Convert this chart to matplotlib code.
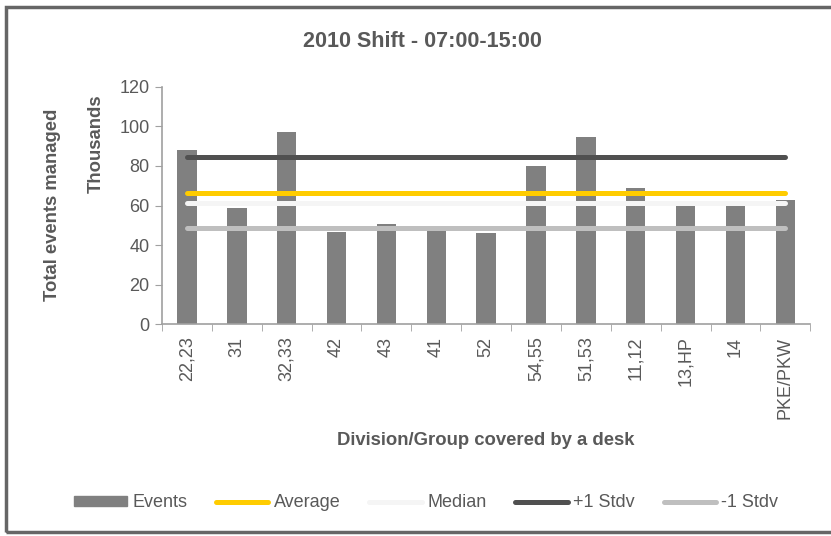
import matplotlib.pyplot as plt
from matplotlib.patches import Rectangle
from matplotlib.lines import Line2D

# data (thousands of events)
desks = ["22,23", "31", "32,33", "42", "43", "41", "52", "54,55", "51,53",
         "11,12", "13,HP", "14", "PKE/PKW"]
events = [88.0, 58.7, 97.1, 46.6, 50.6, 47.4, 46.1, 80.0, 94.5, 68.8, 60.1, 60.0, 62.6]
average = 66.3
median = 61.3
plus_stdv = 84.4
minus_stdv = 48.4

plt.rcParams['font.family'] = ['Liberation Sans', 'DejaVu Sans']
txt = '#595959'

fig = plt.figure(figsize=(8.31, 5.36), dpi=100)
ax = fig.add_axes([0.195, 0.3955, 0.78, 0.4422])

x = list(range(len(desks)))
ax.bar(x, events, width=0.39, color='#808080', zorder=2)

ax.plot([x[0], x[-1]], [plus_stdv] * 2, color='#505050', lw=3.6, solid_capstyle='round', zorder=3)
ax.plot([x[0], x[-1]], [average] * 2, color='#ffcc00', lw=3.6, solid_capstyle='round', zorder=3)
ax.plot([x[0], x[-1]], [median] * 2, color='#f5f5f5', lw=3.6, solid_capstyle='round', zorder=3)
ax.plot([x[0], x[-1]], [minus_stdv] * 2, color='#bfbfbf', lw=3.6, solid_capstyle='round', zorder=3)

ax.set_xlim(-0.5, len(desks) - 0.5)
ax.set_ylim(0, 120)
ax.set_yticks(range(0, 121, 20))
ax.set_xticks(x)
ax.set_xticklabels(desks, rotation=90, fontsize=13, color=txt)
ax.tick_params(axis='x', length=0, pad=9)
ax.set_xticks([i - 0.5 for i in range(len(desks) + 1)], minor=True)
ax.tick_params(axis='x', which='minor', length=5, color='#a0a0a0', direction='out')
ax.tick_params(axis='y', labelsize=13, labelcolor=txt, length=5, color='#a0a0a0', pad=4)

for s in ['top', 'right']:
    ax.spines[s].set_visible(False)
for s in ['left', 'bottom']:
    ax.spines[s].set_color('#a0a0a0')
    ax.spines[s].set_linewidth(1.2)

fig.text(0.508, 0.923, "2010 Shift - 07:00-15:00", ha='center', va='center',
         fontsize=15.5, fontweight='bold', color=txt)
fig.text(0.0626, 0.6185, "Total events managed", rotation=90, ha='center', va='center',
         fontsize=13.3, fontweight='bold', color=txt)
fig.text(0.116, 0.731, "Thousands", rotation=90, ha='center', va='center',
         fontsize=13.3, fontweight='bold', color=txt)
fig.text(0.585, 0.179, "Division/Group covered by a desk", ha='center', va='center',
         fontsize=13.3, fontweight='bold', color=txt)

handles = [
    Rectangle((0, 0), 1, 1, color='#808080'),
    Line2D([], [], color='#ffcc00', lw=3.6, solid_capstyle='round'),
    Line2D([], [], color='#f5f5f5', lw=3.6, solid_capstyle='round'),
    Line2D([], [], color='#505050', lw=3.6, solid_capstyle='round'),
    Line2D([], [], color='#bfbfbf', lw=3.6, solid_capstyle='round'),
]
labels = ["Events", "Average", "Median", "+1 Stdv", "-1 Stdv"]
leg = fig.legend(handles, labels, loc='center', bbox_to_anchor=(0.513, 0.0616), ncol=5,
                 frameon=False, fontsize=13, handlelength=2.9, handletextpad=0.3,
                 columnspacing=1.6, handleheight=0.45)
for t in leg.get_texts():
    t.set_color(txt)

# outer chart border
fig.patches.append(Rectangle((0.0075, 0.0075), 1.2, 0.9795, transform=fig.transFigure,
                             fill=False, edgecolor='#666666', lw=2.5))

fig.savefig("out.png", dpi=100)
